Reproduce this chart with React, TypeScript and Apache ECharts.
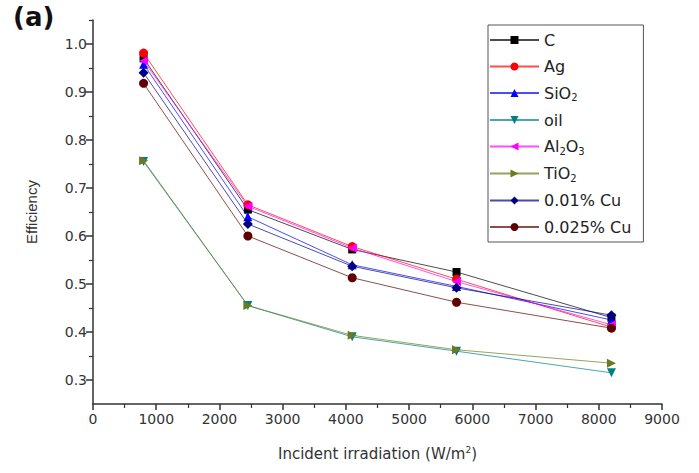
import React, { useEffect, useRef } from "react";
import * as echarts from "echarts";

const xValues = [800, 2450, 4100, 5750, 8200];
const seriesNames = ["C", "Ag", "SiO2", "oil", "Al2O3", "TiO2", "0.01% Cu", "0.025% Cu"];
const legendLabels: Record<string, string> = {
  C: "C",
  Ag: "Ag",
  SiO2: "SiO{s|2}",
  oil: "oil",
  Al2O3: "Al{s|2}O{s|3}",
  TiO2: "TiO{s|2}",
  "0.01% Cu": "0.01% Cu",
  "0.025% Cu": "0.025% Cu",
};
const cData = [0.97, 0.655, 0.572, 0.525, 0.43];
const agData = [0.981, 0.665, 0.578, 0.51, 0.41];
const sio2Data = [0.958, 0.64, 0.54, 0.495, 0.425];
const oilData = [0.755, 0.455, 0.39, 0.36, 0.315];
const al2o3Data = [0.965, 0.662, 0.575, 0.505, 0.415];
const tio2Data = [0.757, 0.455, 0.393, 0.363, 0.335];
const cu01Data = [0.94, 0.625, 0.537, 0.492, 0.435];
const cu025Data = [0.918, 0.6, 0.513, 0.462, 0.408];
const allData = [cData, agData, sio2Data, oilData, al2o3Data, tio2Data, cu01Data, cu025Data];
const colors = ["#000000", "#ff0000", "#0000ff", "#008080", "#ff00ff", "#6b7a1e", "#000080", "#600000"];
const symbols = ["rect", "circle", "triangle", "triangle", "triangle", "triangle", "diamond", "circle"];
const rotations = [0, 0, 0, 180, 90, -90, 0, 0];
const yMajor = [0.3, 0.4, 0.5, 0.6, 0.7, 0.8, 0.9, 1.0];
const yMinor = [0.35, 0.45, 0.55, 0.65, 0.75, 0.85, 0.95, 1.05];

const FONT = "DejaVu Sans";

export default function App() {
  const ref = useRef<HTMLDivElement>(null);
  useEffect(() => {
    if (!ref.current) return;
    const chart = echarts.init(ref.current, null, { renderer: "svg" });
    const axisLineStyle = { color: "#333", width: 1.5 };
    chart.setOption({
      animation: false,
      backgroundColor: "#ffffff",
      grid: { left: 93, right: 37, top: 20, bottom: 69 },
      graphic: [
        {
          type: "text",
          left: 13,
          top: 4,
          style: { text: "(a)", font: `bold 26px "${FONT}"`, fill: "#111" },
        },
      ],
      legend: {
        orient: "vertical",
        left: 488,
        top: 25,
        padding: [6, 12, 6, 1],
        borderColor: "#555",
        borderWidth: 1,
        itemWidth: 49,
        itemHeight: 10,
        itemGap: 8.5,
        data: seriesNames,
        formatter: (name: string) => legendLabels[name] || name,
        textStyle: {
          fontFamily: FONT,
          fontSize: 16,
          color: "#222",
          lineHeight: 18,
          rich: {
            s: { fontFamily: FONT, fontSize: 10, color: "#222", padding: [9, 0, 0, 0] },
          },
        },
      },
      xAxis: {
        type: "value",
        min: 0,
        max: 9000,
        interval: 1000,
        name: "Incident irradiation (W/m{sup|2})",
        nameLocation: "middle",
        nameGap: 41,
        nameTextStyle: {
          fontFamily: FONT,
          fontSize: 15,
          color: "#333",
          rich: {
            sup: { fontFamily: FONT, fontSize: 9, color: "#333", padding: [0, 0, 8, 0] },
          },
        },
        axisLine: { show: true, lineStyle: axisLineStyle },
        axisTick: { show: true, length: 6, lineStyle: axisLineStyle },
        minorTick: { show: true, splitNumber: 2, length: 4, lineStyle: { color: "#333", width: 1.2 } },
        splitLine: { show: false },
        axisLabel: {
          fontFamily: FONT,
          fontSize: 14,
          color: "#333",
          margin: 8,
          formatter: (v: number) => String(v),
        },
      },
      yAxis: [
        {
          type: "value",
          min: 0.25,
          max: 1.05,
          name: "Efficiency",
          nameLocation: "middle",
          nameGap: 54,
          nameTextStyle: { fontFamily: "Liberation Sans", fontSize: 15, color: "#333" },
          axisLine: { show: true, lineStyle: axisLineStyle },
          axisTick: { show: true, length: 7, lineStyle: axisLineStyle, customValues: yMajor },
          axisLabel: {
            fontFamily: FONT,
            fontSize: 14,
            color: "#333",
            margin: 6,
            customValues: yMajor,
            formatter: (v: number) => v.toFixed(1),
          },
          splitLine: { show: false },
        },
        {
          type: "value",
          min: 0.25,
          max: 1.05,
          position: "left",
          axisLine: { show: false },
          axisTick: { show: true, length: 4, lineStyle: { color: "#333", width: 1.2 }, customValues: yMinor },
          axisLabel: { show: false, customValues: yMinor },
          splitLine: { show: false },
        },
      ],
      series: seriesNames.map((name, i) => ({
        name,
        type: "line",
        yAxisIndex: 0,
        data: xValues.map((x, j) => [x, allData[i][j]]),
        symbol: symbols[i],
        symbolRotate: rotations[i],
        symbolSize: symbols[i] === "rect" ? 8 : symbols[i] === "diamond" ? 10 : 9,
        itemStyle: { color: colors[i] },
        lineStyle: { color: colors[i], width: 1, opacity: 0.7 },
        z: 2 + i,
      })),
    });
    return () => chart.dispose();
  }, []);
  return (
    <div
      ref={ref}
      style={{ position: "fixed", left: 0, top: 0, width: 699, height: 473, background: "#fff" }}
    />
  );
}
